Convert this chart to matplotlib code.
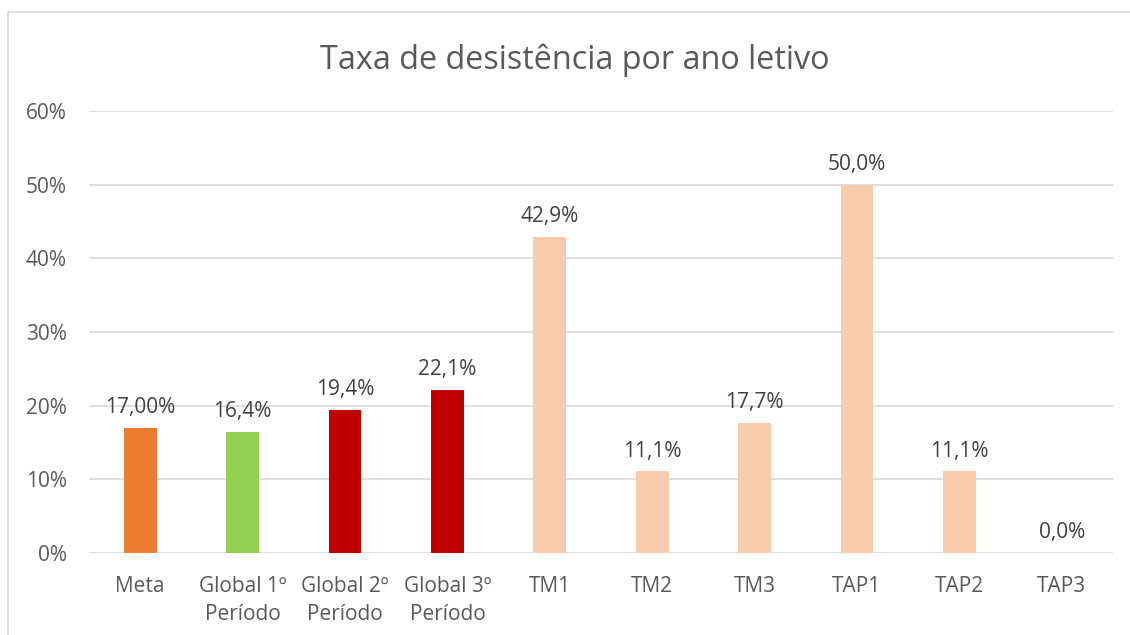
import matplotlib.pyplot as plt
from matplotlib.patches import Rectangle

categories = ['Meta', 'Global 1º\nPeríodo', 'Global 2º\nPeríodo', 'Global 3º\nPeríodo',
              'TM1', 'TM2', 'TM3', 'TAP1', 'TAP2', 'TAP3']
values = [17.0, 16.4, 19.4, 22.1, 42.9, 11.1, 17.7, 50.0, 11.1, 0.0]
value_labels = ['17,00%', '16,4%', '19,4%', '22,1%', '42,9%', '11,1%', '17,7%', '50,0%', '11,1%', '0,0%']
colors = ['#ED7D31', '#92D050', '#C00000', '#C00000'] + ['#F8CBAD'] * 6
yticks = [0, 10, 20, 30, 40, 50, 60]

plt.rcParams['font.family'] = ['Open Sans', 'DejaVu Sans']
text_color = '#595959'

fig = plt.figure(figsize=(11.3, 6.35), dpi=100)
ax = fig.add_axes([89 / 1130, 1 - 553 / 635, (1113 - 89) / 1130, (553 - 111) / 635])

# chart border (cropped at right and bottom)
fig.patches.append(Rectangle((8 / 1130, -0.1), 1.2, 1.1 - 12 / 635,
                             transform=fig.transFigure, fill=False,
                             edgecolor='#D9D9D9', linewidth=1.2))

x = range(len(categories))
ax.bar(x, values, width=0.32, color=colors, zorder=2)
for i, (v, lab) in enumerate(zip(values, value_labels)):
    ax.annotate(lab, (i, v), xytext=(0, 7), textcoords='offset points',
                ha='center', va='bottom', fontsize=15, color='#404040')

ax.set_xlim(-0.5, len(categories) - 0.5)
ax.set_ylim(0, 60)
ax.set_yticks(yticks)
ax.set_yticklabels([f'{t}%' for t in yticks], fontsize=15, color=text_color)
ax.set_xticks(list(x))
ax.set_xticklabels(categories, fontsize=15, color=text_color, linespacing=1.45)
ax.tick_params(axis='both', length=0)
ax.tick_params(axis='x', pad=16.5)
ax.tick_params(axis='y', pad=16)
ax.yaxis.grid(True, color='#D9D9D9', linewidth=1.2, zorder=0)
ax.set_axisbelow(True)
for s in ax.spines.values():
    s.set_visible(False)

fig.text(575 / 1130, 1 - 60 / 635, 'Taxa de desistência por ano letivo', ha='center', va='center',
         fontsize=23.3, color=text_color)

fig.savefig('out.png', dpi=100)
